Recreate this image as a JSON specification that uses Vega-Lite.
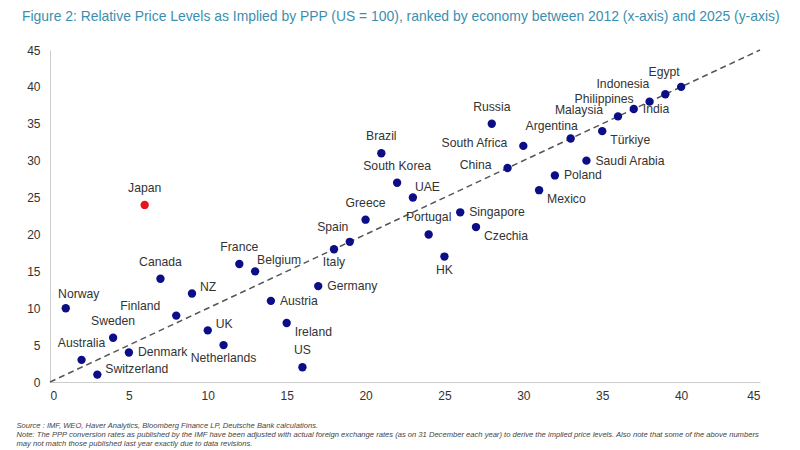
{
  "$schema": "https://vega.github.io/schema/vega-lite/v6.json",
  "autosize": "none",
  "width": 710,
  "height": 332,
  "padding": {"left": 50, "top": 50, "right": 40, "bottom": 68},
  "background": "white",
  "config": {"view": {"stroke": null}},
  "title": {
    "text": "Figure 2: Relative Price Levels as Implied by PPP (US = 100), ranked by economy between 2012 (x-axis) and 2025 (y-axis)",
    "anchor": "start",
    "frame": "group",
    "dx": -28,
    "offset": 20,
    "font": "Liberation Sans",
    "fontSize": 13.9,
    "fontWeight": "normal",
    "color": "#3a8fb0"
  },
  "datasets": {
    "pts": [
      {"country": "Norway", "x": 1, "y": 10},
      {"country": "Australia", "x": 2, "y": 3},
      {"country": "Switzerland", "x": 3, "y": 1},
      {"country": "Sweden", "x": 4, "y": 6},
      {"country": "Denmark", "x": 5, "y": 4},
      {"country": "Japan", "x": 6, "y": 24},
      {"country": "Canada", "x": 7, "y": 14},
      {"country": "Finland", "x": 8, "y": 9},
      {"country": "NZ", "x": 9, "y": 12},
      {"country": "UK", "x": 10, "y": 7},
      {"country": "Netherlands", "x": 11, "y": 5},
      {"country": "France", "x": 12, "y": 16},
      {"country": "Belgium", "x": 13, "y": 15},
      {"country": "Austria", "x": 14, "y": 11},
      {"country": "Ireland", "x": 15, "y": 8},
      {"country": "US", "x": 16, "y": 2},
      {"country": "Germany", "x": 17, "y": 13},
      {"country": "Italy", "x": 18, "y": 18},
      {"country": "Spain", "x": 19, "y": 19},
      {"country": "Greece", "x": 20, "y": 22},
      {"country": "Brazil", "x": 21, "y": 31},
      {"country": "South Korea", "x": 22, "y": 27},
      {"country": "UAE", "x": 23, "y": 25},
      {"country": "Portugal", "x": 24, "y": 20},
      {"country": "HK", "x": 25, "y": 17},
      {"country": "Singapore", "x": 26, "y": 23},
      {"country": "Czechia", "x": 27, "y": 21},
      {"country": "Russia", "x": 28, "y": 35},
      {"country": "China", "x": 29, "y": 29},
      {"country": "South Africa", "x": 30, "y": 32},
      {"country": "Mexico", "x": 31, "y": 26},
      {"country": "Poland", "x": 32, "y": 28},
      {"country": "Argentina", "x": 33, "y": 33},
      {"country": "Saudi Arabia", "x": 34, "y": 30},
      {"country": "Türkiye", "x": 35, "y": 34},
      {"country": "Malaysia", "x": 36, "y": 36},
      {"country": "India", "x": 37, "y": 37},
      {"country": "Philippines", "x": 38, "y": 38},
      {"country": "Indonesia", "x": 39, "y": 39},
      {"country": "Egypt", "x": 40, "y": 40}
    ],
    "diag": [{"x": 0, "y": 0}, {"x": 45, "y": 45}]
  },
  "encoding": {
    "x": {
      "field": "x", "type": "quantitative",
      "scale": {"domain": [0, 45], "nice": false, "zero": true},
      "axis": {
        "values": [0, 5, 10, 15, 20, 25, 30, 35, 40, 45],
        "grid": false, "ticks": false,
        "domainColor": "#cccccc", "domainWidth": 1,
        "labelFontSize": 12, "labelColor": "#333333", "labelFont": "Liberation Sans",
        "labelPadding": 8,
        "title": [
          "Source : IMF, WEO, Haver Analytics, Bloomberg Finance LP, Deutsche Bank calculations.",
          "Note: The PPP conversion rates as published by the IMF have been adjusted with actual foreign exchange rates (as on 31 December each year) to derive the implied price levels. Also note that some of the above numbers",
          "may not match those published last year exactly due to data revisions."
        ],
        "titleAnchor": "start", "titleAlign": "left", "titleBaseline": "top",
        "titleX": -34, "titleY": 39,
        "titleFontSize": 7.6, "titleFontStyle": "italic", "titleFontWeight": "normal",
        "titleLineHeight": 9, "titleColor": "#444444", "titleFont": "Liberation Sans"
      }
    },
    "y": {
      "field": "y", "type": "quantitative",
      "scale": {"domain": [0, 45], "nice": false, "zero": true},
      "axis": {
        "values": [0, 5, 10, 15, 20, 25, 30, 35, 40, 45],
        "grid": false, "ticks": false,
        "domainColor": "#cccccc", "domainWidth": 1,
        "labelFontSize": 12, "labelColor": "#333333", "labelFont": "Liberation Sans",
        "labelPadding": 10, "title": null
      }
    }
  },
  "layer": [
    {
      "data": {"name": "diag"},
      "mark": {"type": "line", "color": "#555555", "strokeWidth": 1.5, "strokeDash": [6, 4]}
    },
    {
      "data": {"name": "pts"},
      "mark": {"type": "circle", "size": 70, "opacity": 1},
      "encoding": {
        "color": {"condition": {"test": "datum.country === 'Japan'", "value": "#e8141b"}, "value": "#0b0e86"}
      }
    },
    {
      "data": {"name": "pts"},
      "transform": [{"filter": {"field": "country", "oneOf": ["Japan", "Canada", "France", "Greece", "Brazil", "South Korea", "Russia", "Portugal", "US", "Australia", "Sweden"]}}],
      "mark": {"type": "text", "align": "center", "baseline": "middle", "dy": -17, "font": "Liberation Sans", "fontSize": 12.2, "color": "#333333"},
      "encoding": {"text": {"field": "country"}}
    },
    {
      "data": {"name": "pts"},
      "transform": [{"filter": {"field": "country", "oneOf": ["Norway"]}}],
      "mark": {"type": "text", "align": "center", "baseline": "middle", "dx": 13, "dy": -14, "font": "Liberation Sans", "fontSize": 12.2, "color": "#333333"},
      "encoding": {"text": {"field": "country"}}
    },
    {
      "data": {"name": "pts"},
      "transform": [{"filter": {"field": "country", "oneOf": ["Spain", "Egypt"]}}],
      "mark": {"type": "text", "align": "center", "baseline": "middle", "dx": -17, "dy": -15, "font": "Liberation Sans", "fontSize": 12.2, "color": "#333333"},
      "encoding": {"text": {"field": "country"}}
    },
    {
      "data": {"name": "pts"},
      "transform": [{"filter": {"field": "country", "oneOf": ["Argentina"]}}],
      "mark": {"type": "text", "align": "center", "baseline": "middle", "dx": -19, "dy": -13, "font": "Liberation Sans", "fontSize": 12.2, "color": "#333333"},
      "encoding": {"text": {"field": "country"}}
    },
    {
      "data": {"name": "pts"},
      "transform": [{"filter": {"field": "country", "oneOf": ["Belgium", "UAE"]}}],
      "mark": {"type": "text", "align": "left", "baseline": "middle", "dx": 2, "dy": -11, "font": "Liberation Sans", "fontSize": 12.2, "color": "#333333"},
      "encoding": {"text": {"field": "country"}}
    },
    {
      "data": {"name": "pts"},
      "transform": [{"filter": {"field": "country", "oneOf": ["Denmark", "Austria", "Germany", "Singapore", "Poland", "Saudi Arabia", "India"]}}],
      "mark": {"type": "text", "align": "left", "baseline": "middle", "dx": 9, "dy": 0, "font": "Liberation Sans", "fontSize": 12.2, "color": "#333333"},
      "encoding": {"text": {"field": "country"}}
    },
    {
      "data": {"name": "pts"},
      "transform": [{"filter": {"field": "country", "oneOf": ["Switzerland", "UK", "NZ"]}}],
      "mark": {"type": "text", "align": "left", "baseline": "middle", "dx": 8, "dy": -6, "font": "Liberation Sans", "fontSize": 12.2, "color": "#333333"},
      "encoding": {"text": {"field": "country"}}
    },
    {
      "data": {"name": "pts"},
      "transform": [{"filter": {"field": "country", "oneOf": ["China", "South Africa", "Philippines"]}}],
      "mark": {"type": "text", "align": "right", "baseline": "middle", "dx": -16, "dy": -3, "font": "Liberation Sans", "fontSize": 12.2, "color": "#333333"},
      "encoding": {"text": {"field": "country"}}
    },
    {
      "data": {"name": "pts"},
      "transform": [{"filter": {"field": "country", "oneOf": ["Malaysia"]}}],
      "mark": {"type": "text", "align": "right", "baseline": "middle", "dx": -15, "dy": -6, "font": "Liberation Sans", "fontSize": 12.2, "color": "#333333"},
      "encoding": {"text": {"field": "country"}}
    },
    {
      "data": {"name": "pts"},
      "transform": [{"filter": {"field": "country", "oneOf": ["Finland", "Indonesia"]}}],
      "mark": {"type": "text", "align": "right", "baseline": "middle", "dx": -16, "dy": -10, "font": "Liberation Sans", "fontSize": 12.2, "color": "#333333"},
      "encoding": {"text": {"field": "country"}}
    },
    {
      "data": {"name": "pts"},
      "transform": [{"filter": {"field": "country", "oneOf": ["Italy", "HK", "Netherlands"]}}],
      "mark": {"type": "text", "align": "center", "baseline": "middle", "dx": 0, "dy": 13, "font": "Liberation Sans", "fontSize": 12.2, "color": "#333333"},
      "encoding": {"text": {"field": "country"}}
    },
    {
      "data": {"name": "pts"},
      "transform": [{"filter": {"field": "country", "oneOf": ["Ireland", "Czechia", "Mexico", "Türkiye"]}}],
      "mark": {"type": "text", "align": "left", "baseline": "middle", "dx": 8, "dy": 9, "font": "Liberation Sans", "fontSize": 12.2, "color": "#333333"},
      "encoding": {"text": {"field": "country"}}
    }
  ]
}
